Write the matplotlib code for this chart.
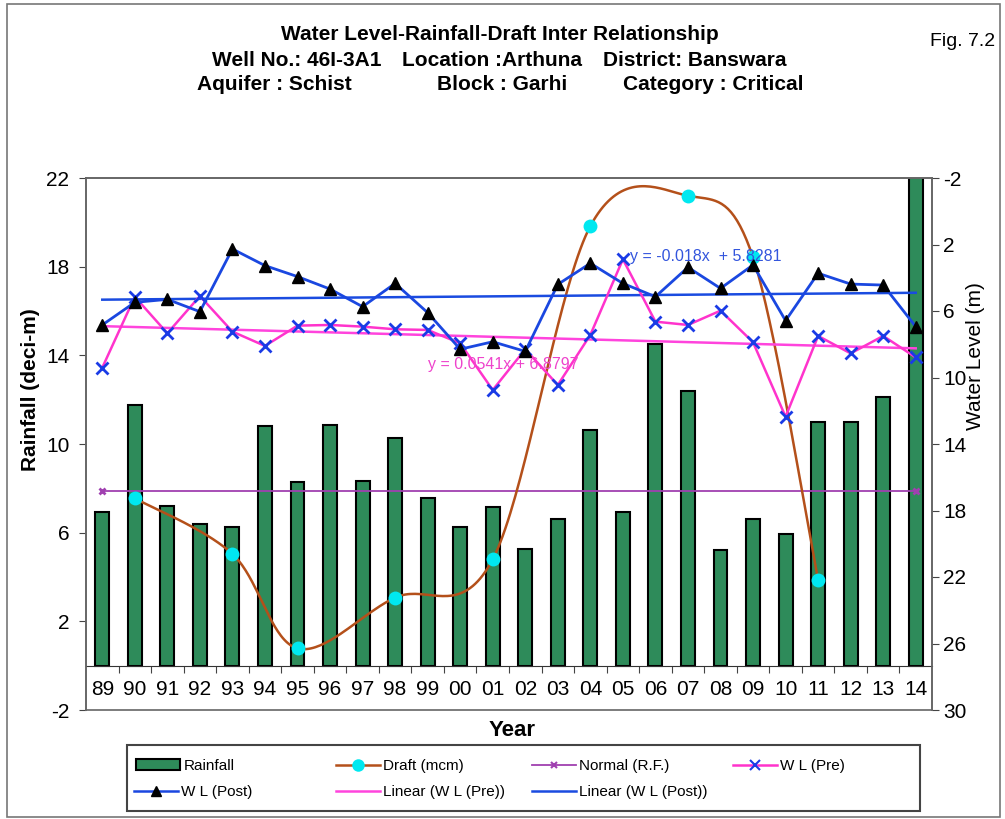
import numpy as np
import matplotlib.pyplot as plt
from matplotlib.patches import Rectangle, Patch
from matplotlib.lines import Line2D

plt.rcParams['font.family'] = ['Liberation Sans', 'DejaVu Sans']
plt.rcParams['axes.unicode_minus'] = False

# --- data ---
years = ['89', '90', '91', '92', '93', '94', '95', '96', '97', '98', '99', '00', '01',
         '02', '03', '04', '05', '06', '07', '08', '09', '10', '11', '12', '13', '14']
rainfall = [6.95, 11.75, 7.2, 6.38, 6.24, 10.8, 8.3, 10.85, 8.35, 10.26, 7.58, 6.24, 7.17,
            5.26, 6.6, 10.63, 6.92, 14.51, 12.4, 5.22, 6.6, 5.94, 11.0, 11.0, 12.1, 24.0]
draft = [None, 7.55, None, None, 5.04, None, 0.78, None, None, 3.07, None, None, 4.8,
         None, None, 19.83, None, None, 21.2, None, 18.42, None, 3.87, None, None, None]
normal_rf = 7.9
wl_pre = [9.41, 5.14, 7.34, 5.1, 7.24, 8.1, 6.88, 6.84, 6.94, 7.1, 7.14, 7.94, 10.75,
          8.3, 10.45, 7.44, 2.89, 6.64, 6.84, 5.98, 7.88, 12.36, 7.5, 8.55, 7.5, 8.79]
wl_post = [6.84, 5.48, 5.3, 6.04, 2.27, 3.27, 3.93, 4.68, 5.74, 4.34, 6.1, 8.3, 7.85,
           8.43, 4.4, 3.13, 4.34, 5.14, 3.37, 4.64, 3.23, 6.58, 3.73, 4.38, 4.44, 6.94]
eq_pre = 'y = 0.0541x + 6.8797'
eq_post = 'y = -0.018x  + 5.8281'

GREEN = '#2e8b5a'
BROWN = '#b4501a'
CYAN = '#00e8f0'
PURPLE = '#a040b0'
MAGENTA = '#ff33cc'
BLUE = '#1a47e0'
XBLUE = '#1a3be6'

W, H = 1005, 819
def fx(px):
    return px / W
def fy(py):
    return 1 - py / H


def smooth(xs, ys, n=40):
    # excel-like smoothed line (bezier with catmull-rom control points)
    P = np.column_stack([xs, ys]).astype(float)
    segs = []
    for i in range(len(P) - 1):
        p0 = P[i - 1] if i > 0 else P[i]
        p3 = P[i + 2] if i + 2 < len(P) else P[i + 1]
        p1, p2 = P[i], P[i + 1]
        c1 = p1 + (p2 - p0) / 6
        c2 = p2 - (p3 - p1) / 6
        t = np.linspace(0, 1, n)[:, None]
        segs.append((1 - t) ** 3 * p1 + 3 * (1 - t) ** 2 * t * c1
                    + 3 * (1 - t) * t ** 2 * c2 + t ** 3 * p2)
    return np.vstack(segs)


fig = plt.figure(figsize=(W / 100, H / 100), dpi=100)
ax = fig.add_axes([fx(86), fy(710), 846 / W, 532 / H])
ax2 = ax.twinx()

x = np.arange(len(years))

# rainfall bars
ax.bar(x, rainfall, width=0.43, color=GREEN, edgecolor='black', linewidth=1.5, zorder=2)

# normal rainfall
ax.plot([x[0], x[-1]], [normal_rf, normal_rf], color=PURPLE, lw=1.3,
        marker='x', ms=5, mew=2, zorder=3)

# draft
dx = np.array([x[i] for i, d in enumerate(draft) if d is not None])
dy = np.array([d for d in draft if d is not None])
curve = smooth(dx, dy)
ax.plot(curve[:, 0], curve[:, 1], color=BROWN, lw=1.8, zorder=3)
ax.plot(dx, dy, 'o', color=CYAN, ms=10, mec='none', zorder=4)

# water levels (right axis)
ax2.plot(x, wl_pre, color=MAGENTA, lw=1.8, marker='x', ms=9, mew=2, mec=XBLUE, zorder=4)
ax2.plot(x, wl_post, color=BLUE, lw=2, marker='^', ms=9, mfc='black', mec='black', zorder=5)

# linear trends
k, b = np.polyfit(x, wl_pre, 1)
ax2.plot(x[[0, -1]], k * x[[0, -1]] + b, color='#ff44dd', lw=1.8, zorder=3)
k, b = np.polyfit(x, wl_post, 1)
ax2.plot(x[[0, -1]], k * x[[0, -1]] + b, color='#1a4be0', lw=1.8, zorder=3)

# axes styling
ax.set_xlim(-0.5, len(years) - 0.5)
ax.set_ylim(-2, 22)
ax.set_yticks(range(-2, 23, 4))
ax2.set_ylim(30, -2)
ax2.set_yticks(range(-2, 31, 4))

ax.set_xticks(np.arange(0.5, len(years) - 1, 1))
ax.set_xticklabels([])
ax.set_xticks(x, minor=True)
ax.set_xticklabels(years, minor=True)
ax.tick_params(axis='x', which='major', direction='out', length=5, color='#444')
ax.tick_params(axis='x', which='minor', length=0, pad=10, labelsize=15)
ax.tick_params(axis='y', direction='out', length=5, pad=7, labelsize=15, color='#444')
ax2.tick_params(axis='y', direction='out', length=5, pad=3, labelsize=15, color='#444')

ax.spines['bottom'].set_position(('data', 0))
ax.spines['bottom'].set_color('#333')
for s in ['top', 'left', 'right']:
    ax.spines[s].set_color('#666')
    ax.spines[s].set_linewidth(1.2)
for s in ['top', 'left', 'right', 'bottom']:
    ax2.spines[s].set_color('#666')
    ax2.spines[s].set_linewidth(1.2)

# texts
fig.text(fx(500), fy(35), 'Water Level-Rainfall-Draft Inter Relationship',
         ha='center', va='center', fontsize=15, weight='bold')
for px, py, s in [(212, 60, 'Well No.: 46I-3A1'), (402, 60, 'Location :Arthuna'),
                  (603, 60, 'District: Banswara'), (197, 85, 'Aquifer : Schist'),
                  (437, 85, 'Block : Garhi'), (623, 85, 'Category : Critical')]:
    fig.text(fx(px), fy(py), s, ha='left', va='center', fontsize=15, weight='bold')
fig.text(fx(995), fy(42), 'Fig. 7.2', ha='right', va='center', fontsize=14)

fig.text(fx(512), fy(730), 'Year', ha='center', va='center', fontsize=16, weight='bold')
fig.text(fx(31), fy(390), 'Rainfall (deci-m)', rotation=90, ha='center', va='center',
         fontsize=15, weight='bold')
fig.text(fx(975), fy(356), 'Water Level (m)', rotation=90, ha='center', va='center',
         fontsize=15)

fig.text(fx(630), fy(256), eq_post, color='#3355dd', fontsize=11.5, ha='left', va='center')
fig.text(fx(428), fy(364), eq_pre, color='#ee44cc', fontsize=11.5, ha='left', va='center')

# legend: one box, entries placed like the excel legend
h_rain = Patch(facecolor=GREEN, edgecolor='black', linewidth=1.5)
h_draft = Line2D([], [], color=BROWN, lw=1.8, marker='o', mfc=CYAN, mec='none', ms=9)
h_norm = Line2D([], [], color=PURPLE, lw=1.3, marker='x', ms=5, mew=1.5)
h_pre = Line2D([], [], color=MAGENTA, lw=1.8, marker='x', ms=7, mew=1.5, mec=XBLUE)
h_post = Line2D([], [], color=BLUE, lw=1.8, marker='^', ms=7, mfc='black', mec='black')
h_tpre = Line2D([], [], color='#ff44dd', lw=1.8)
h_tpost = Line2D([], [], color='#1a4be0', lw=1.8)

entries = [(h_rain, 'Rainfall', 136, 766), (h_draft, 'Draft (mcm)', 336, 766),
           (h_norm, 'Normal (R.F.)', 532, 766), (h_pre, 'W L (Pre)', 733, 766),
           (h_post, 'W L (Post)', 134, 792), (h_tpre, 'Linear (W L (Pre))', 336, 792),
           (h_tpost, 'Linear (W L (Post))', 532, 792)]
for h, lab, px, py in entries:
    fig.legend(handles=[h], labels=[lab], loc='center left',
               bbox_to_anchor=(fx(px), fy(py)), frameon=False, borderpad=0,
               borderaxespad=0, handlelength=2.9, handletextpad=0.2, fontsize=11)

fig.add_artist(Rectangle((fx(127), fy(811)), (920 - 127) / W, 66 / H,
                         transform=fig.transFigure, fill=False, ec='#444', lw=1.5))
fig.add_artist(Rectangle((fx(7), fy(817)), 993 / W, 813 / H,
                         transform=fig.transFigure, fill=False, ec='#777', lw=1.2))

fig.savefig('out.png', dpi=100)
